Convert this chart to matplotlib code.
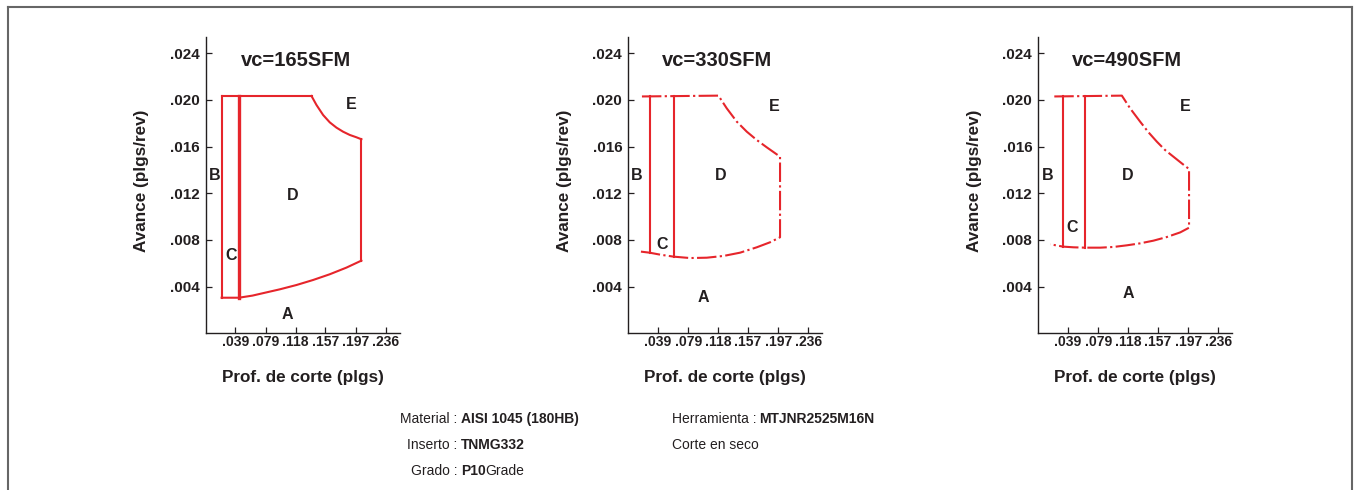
import matplotlib
matplotlib.use("Agg")
import matplotlib.pyplot as plt
from matplotlib.lines import Line2D

plt.rcParams['font.family'] = ['Liberation Sans', 'DejaVu Sans']
plt.rcParams['lines.scale_dashes'] = False

# ---------------- data ----------------
titles = ["vc=165SFM", "vc=330SFM", "vc=490SFM"]
x_ticks = [0.039, 0.079, 0.118, 0.157, 0.197, 0.236]
x_tick_labels = [".039", ".079", ".118", ".157", ".197", ".236"]
y_ticks = [0.004, 0.008, 0.012, 0.016, 0.020, 0.024]
y_tick_labels = [".004", ".008", ".012", ".016", ".020", ".024"]
xlabel = "Prof. de corte (plgs)"
ylabel = "Avance (plgs/rev)"
f_max = 0.0203

# Panel 1 (165 SFM)
p1_x_left = 0.0211
p1_x_cd = 0.0438
p1_e_x = [0.1387, 0.1452, 0.1539, 0.1626, 0.1713, 0.1800, 0.1888, 0.1975, 0.2040]
p1_e_y = [0.02034, 0.01957, 0.01871, 0.01808, 0.01763, 0.01728, 0.01700, 0.01680, 0.01663]
p1_bot_x = [0.0211, 0.0438, 0.0614, 0.0773, 0.0973, 0.1191, 0.1408, 0.1626, 0.1844, 0.2040]
p1_bot_y = [0.00305, 0.00305, 0.00323, 0.00347, 0.00377, 0.00414, 0.00457, 0.00506, 0.00563, 0.00623]

# Panel 2 (330 SFM)
p2_x_start = 0.0185
p2_x_bc = 0.0285
p2_x_cd = 0.0599
p2_e_x = [0.1186, 0.1295, 0.1426, 0.1557, 0.1687, 0.1818, 0.1992]
p2_e_y = [0.02037, 0.01928, 0.01814, 0.01728, 0.01657, 0.01594, 0.01514]
p2_bot_x = [0.0172, 0.0285, 0.0424, 0.0599, 0.0816, 0.1034, 0.1252, 0.1469, 0.1687, 0.1861, 0.1992]
p2_bot_y = [0.00700, 0.00691, 0.00674, 0.00657, 0.00645, 0.00648, 0.00663, 0.00691, 0.00737, 0.00780, 0.00823]

# Panel 3 (490 SFM)
p3_x_start = 0.0216
p3_x_bc = 0.0329
p3_x_cd = 0.0620
p3_e_x = [0.1100, 0.1208, 0.1339, 0.1448, 0.1557, 0.1665, 0.1774, 0.1883, 0.1979]
p3_e_y = [0.02037, 0.01928, 0.01814, 0.01723, 0.01643, 0.01571, 0.01514, 0.01457, 0.01408]
p3_bot_x = [0.0163, 0.0329, 0.0468, 0.0620, 0.0816, 0.0990, 0.1165, 0.1339, 0.1513, 0.1687, 0.1864, 0.1979]
p3_bot_y = [0.00763, 0.00743, 0.00737, 0.00734, 0.00734, 0.00740, 0.00754, 0.00771, 0.00794, 0.00825, 0.00865, 0.00905]

region_labels = ["A", "B", "C", "D", "E"]
p1_lab_x = [0.1074, 0.0124, 0.0329, 0.1147, 0.1910]
p1_lab_y = [0.00157, 0.01351, 0.00671, 0.01179, 0.01957]
p2_lab_x = [0.0990, 0.0111, 0.0447, 0.1217, 0.1914]
p2_lab_y = [0.00305, 0.01351, 0.00763, 0.01351, 0.01948]
p3_lab_x = [0.1188, 0.0128, 0.0454, 0.1175, 0.1928]
p3_lab_y = [0.00343, 0.01351, 0.00909, 0.01351, 0.01948]

title_x = [0.1191, 0.1165, 0.1165]
title_y = 0.0234

# ---------------- figure ----------------
W, H = 1354, 490
fig = plt.figure(figsize=(W / 100, H / 100), dpi=100)

RED = '#e6252b'
INK = '#231f20'
LW = 1.5
DASHDOT = (0, (14, 2.4, 1.6, 2.4))

lefts_px = [205.5, 627.8, 1037.8]
ax_w_px = 194.5
ax_top_px = 37.3
ax_bot_px = 333.3

axes = []
for lp in lefts_px:
    ax = fig.add_axes([lp / W, 1 - ax_bot_px / H, ax_w_px / W, (ax_bot_px - ax_top_px) / H])
    ax.set_xlim(0, 0.2545)
    ax.set_ylim(0, 0.02537)
    for s in ['top', 'right']:
        ax.spines[s].set_visible(False)
    for s in ['left', 'bottom']:
        ax.spines[s].set_linewidth(1.0)
        ax.spines[s].set_color(INK)
    ax.set_xticks(x_ticks)
    ax.set_xticklabels(x_tick_labels, fontsize=10, fontweight='bold', color=INK)
    ax.set_yticks(y_ticks)
    ax.set_yticklabels(y_tick_labels, fontsize=11, fontweight='bold', color=INK)
    ax.tick_params(axis='x', direction='in', length=4, width=0.9, pad=1.5, color=INK)
    ax.tick_params(axis='y', direction='in', length=4, width=0.9, pad=4, color=INK)
    ax.text(0.5, -0.151, xlabel, transform=ax.transAxes, ha='center', va='center',
            fontsize=12.3, fontweight='bold', color=INK)
    ax.text(-0.328, 0.515, ylabel, transform=ax.transAxes, ha='center', va='center',
            rotation=90, fontsize=12.3, fontweight='bold', color=INK)
    axes.append(ax)

# Panel 1 - all solid
ax = axes[0]
ax.plot([p1_x_left, p1_x_left], [p1_bot_y[0], f_max], color=RED, lw=LW)
ax.plot([p1_x_left, p1_e_x[0]], [f_max, f_max], color=RED, lw=LW)
ax.plot(p1_e_x, p1_e_y, color=RED, lw=LW)
ax.plot([p1_e_x[-1], p1_bot_x[-1]], [p1_e_y[-1], p1_bot_y[-1]], color=RED, lw=LW)
ax.plot(p1_bot_x, p1_bot_y, color=RED, lw=LW)
ax.plot([p1_x_cd, p1_x_cd], [p1_bot_y[1], f_max], color=RED, lw=2.4)

# Panels 2 and 3 - dash-dot outline, solid dividers
for ax, xs, xbc, xcd, ex, ey, bx, by in [
        (axes[1], p2_x_start, p2_x_bc, p2_x_cd, p2_e_x, p2_e_y, p2_bot_x, p2_bot_y),
        (axes[2], p3_x_start, p3_x_bc, p3_x_cd, p3_e_x, p3_e_y, p3_bot_x, p3_bot_y)]:
    ox = [xs] + ex + bx[::-1]
    oy = [f_max] + ey + by[::-1]
    ax.plot(ox, oy, color=RED, lw=LW, linestyle=DASHDOT)
    y_bc = by[bx.index(xbc)]
    y_cd = by[bx.index(xcd)]
    ax.plot([xbc, xbc], [y_bc, f_max], color=RED, lw=LW)
    ax.plot([xcd, xcd], [y_cd, f_max], color=RED, lw=LW)

for ax, lx, ly, t, tx in zip(axes, [p1_lab_x, p2_lab_x, p3_lab_x],
                             [p1_lab_y, p2_lab_y, p3_lab_y], titles, title_x):
    for lab, x, y in zip(region_labels, lx, ly):
        ax.text(x, y, lab, ha='center', va='center', fontsize=11.5,
                fontweight='bold', color=INK)
    ax.text(tx, title_y, t, ha='center', va='center', fontsize=14.5,
            fontweight='bold', color=INK)

# ---------------- info text ----------------
info_left = [("Material :", "AISI 1045 (180HB)", ""),
             ("Inserto :", "TNMG332", ""),
             ("Grado :", "P10", "Grade")]
info_right = [("Herramienta : ", "MTJNR2525M16N"),
              ("Corte en seco", "")]
row_y_px = [419, 445, 471]

fig.canvas.draw()
renderer = fig.canvas.get_renderer()
for (lab, val, tail), ypx in zip(info_left, row_y_px):
    fy = 1 - ypx / H
    fig.text(457.5 / W, fy, lab, ha='right', va='center', fontsize=10, color=INK)
    tv = fig.text(461 / W, fy, val, ha='left', va='center', fontsize=10,
                  fontweight='bold', color=INK)
    if tail:
        bb = tv.get_window_extent(renderer=renderer)
        fig.text(bb.x1 / W, fy, tail, ha='left', va='center', fontsize=10, color=INK)

for (lab, val), ypx in zip(info_right, row_y_px):
    fy = 1 - ypx / H
    fig.text(671.5 / W, fy, lab, ha='left', va='center', fontsize=10, color=INK)
    if val:
        fig.text(759 / W, fy, val, ha='left', va='center', fontsize=10,
                 fontweight='bold', color=INK)

# ---------------- outer frame ----------------
fl, fr, ft = 7.5 / W, 1351.5 / W, 1 - 7.5 / H
frame_kw = dict(color='#666666', lw=1.5, transform=fig.transFigure)
fig.add_artist(Line2D([fl, fr], [ft, ft], **frame_kw))
fig.add_artist(Line2D([fl, fl], [ft, -0.01], **frame_kw))
fig.add_artist(Line2D([fr, fr], [ft, -0.01], **frame_kw))

fig.savefig("out.png", dpi=100)
